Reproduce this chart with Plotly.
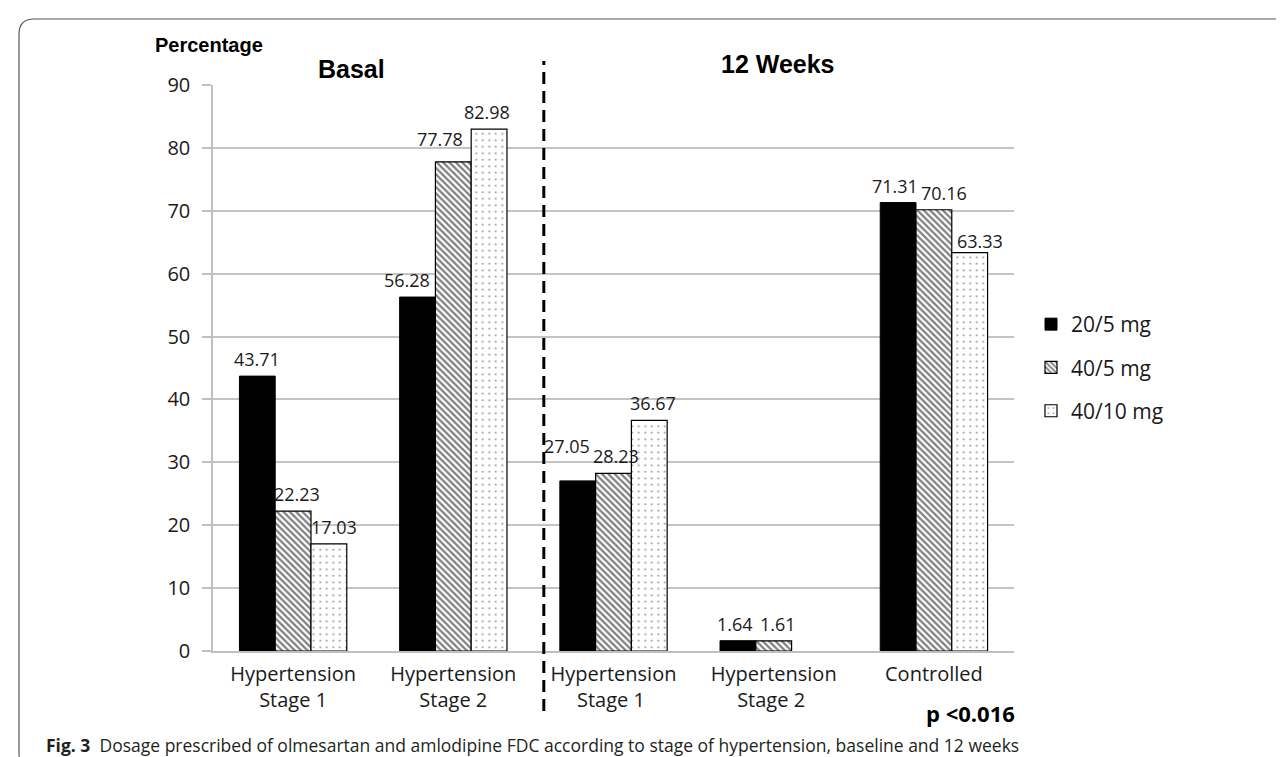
import plotly.graph_objects as go

# ---------------- data ----------------
categories = ["Hypertension<br>Stage 1", "Hypertension<br>Stage 2",
              "Hypertension<br>Stage 1 ", "Hypertension<br>Stage 2 ", "Controlled"]
series_names = ["20/5 mg", "40/5 mg", "40/10 mg"]
dose_20_5 = [43.71, 56.28, 27.05, 1.64, 71.31]
dose_40_5 = [22.23, 77.78, 28.23, 1.61, 70.16]
dose_40_10 = [17.03, 82.98, 36.67, None, 63.33]
y_ticks = [0, 10, 20, 30, 40, 50, 60, 70, 80, 90]

# ---------------- layout constants (pixels) ----------------
W, H = 1284, 757
ML, MR, MT, MB = 205, 278, 77, 114
PW, PH = W - ML - MR, H - MT - MB


def px(xpix):
    return (xpix - ML) / PW


def py(ypix):
    return (H - MB - ypix) / PH


LABEL_FONT = "Open Sans, Noto Sans, sans-serif"
TXT = "#1a1a1a"

styles = [
    dict(color="black", line=dict(color="black", width=1)),
    dict(color="white", line=dict(color="black", width=1.2),
         pattern=dict(shape="\\", fgcolor="black", bgcolor="white", size=4.5, solidity=0.5)),
    dict(color="white", line=dict(color="black", width=1.2),
         pattern=dict(shape=".", fgcolor="#222222", bgcolor="white", size=6.5, solidity=0.08)),
]
all_series = [dose_20_5, dose_40_5, dose_40_10]

fig = go.Figure()
for i, (name, vals) in enumerate(zip(series_names, all_series)):
    fig.add_trace(go.Bar(
        x=categories, y=vals, name=name, marker=styles[i],
        legendgroup=name, cliponaxis=False,
    ))

# value labels above bars (small nudges mimic the original label placement)
x_nudge = {(2, 0): 5, (1, 0): 4, (0, 1): -10, (1, 1): -13, (2, 1): -2,
           (0, 2): -11, (1, 2): 2, (2, 2): 3, (0, 3): -3, (1, 3): 4,
           (0, 4): -3, (1, 4): 10, (2, 4): 10}
y_nudge = {(1, 1): 6, (0, 2): 18, (2, 4): -5}
bar_px = 36.0
for si, vals in enumerate(all_series):
    for ci, v in enumerate(vals):
        if v is None:
            continue
        fig.add_annotation(
            x=categories[ci], y=v, xref="x", yref="y",
            text=f"{v:.2f}", showarrow=False, xanchor="center", yanchor="bottom",
            xshift=(si - 1) * bar_px + x_nudge.get((si, ci), 0),
            yshift=3 + y_nudge.get((si, ci), 0),
            font=dict(family=LABEL_FONT, size=18, color=TXT),
        )


def text_at(xp, yp, txt, size, family, color="black", anchor="center"):
    fig.add_annotation(x=px(xp), y=py(yp), xref="paper", yref="paper", text=txt,
                       showarrow=False, xanchor=anchor, yanchor="middle",
                       font=dict(family=family, size=size, color=color))


ARIAL = "Liberation Sans, Arial, sans-serif"
text_at(343, 61, "<b>Basal</b>", 25, ARIAL)
text_at(770, 56, "<b>12 Weeks</b>", 25, ARIAL)
text_at(201, 37, "<b>Percentage</b>", 20, ARIAL)
text_at(962, 705, "<b>p <0.016</b>", 22, LABEL_FONT)
text_at(36, 737,
        "<b>Fig. 3</b>  Dosage prescribed of olmesartan and amlodipine FDC according to stage of hypertension, baseline and 12 weeks",
        17.5, LABEL_FONT, color="#231f20", anchor="left")

# dashed divider between Basal and 12 Weeks
fig.add_shape(type="line", xref="x", yref="paper", x0=1.565, x1=1.565, y0=py(703), y1=py(53),
              line=dict(color="black", width=3, dash="12px,7px"))

# rounded frame (left / top)
path = (f"M {px(1400)},{py(11)} L {px(26)},{py(11)} Q {px(11)},{py(11)} {px(11)},{py(26)} "
        f"L {px(11)},{py(746)} Q {px(11)},{py(762)} {px(27)},{py(762)} L {px(1400)},{py(762)}")
fig.add_shape(type="path", xref="paper", yref="paper", path=path,
              line=dict(color="#555555", width=1.2))

fig.update_layout(
    width=W, height=H,
    margin=dict(l=ML, r=MR, t=MT, b=MB),
    paper_bgcolor="white", plot_bgcolor="white",
    barmode="group", bargap=0.33, bargroupgap=0,
    showlegend=True,
    legend=dict(x=px(1023), y=py(296), xanchor="left", yanchor="top",
                font=dict(family=LABEL_FONT, size=21, color=TXT),
                tracegroupgap=13, bgcolor="rgba(0,0,0,0)"),
    xaxis=dict(showgrid=False, showline=True, linecolor="#bfbfbf", linewidth=1.5,
               tickfont=dict(family=LABEL_FONT, size=20, color=TXT), ticks="",
               ticklabelstandoff=4),
    yaxis=dict(range=[0, 90], tickvals=y_ticks, showgrid=True, gridcolor="#c4c4c4", gridwidth=1.5,
               showline=True, linecolor="#bfbfbf", linewidth=1.5, ticks="outside", ticklen=9,
               tickcolor="#bfbfbf", tickwidth=1.5, zeroline=False, ticklabelstandoff=8,
               tickfont=dict(family=LABEL_FONT, size=20, color=TXT)),
)

fig.write_html("out.html")
